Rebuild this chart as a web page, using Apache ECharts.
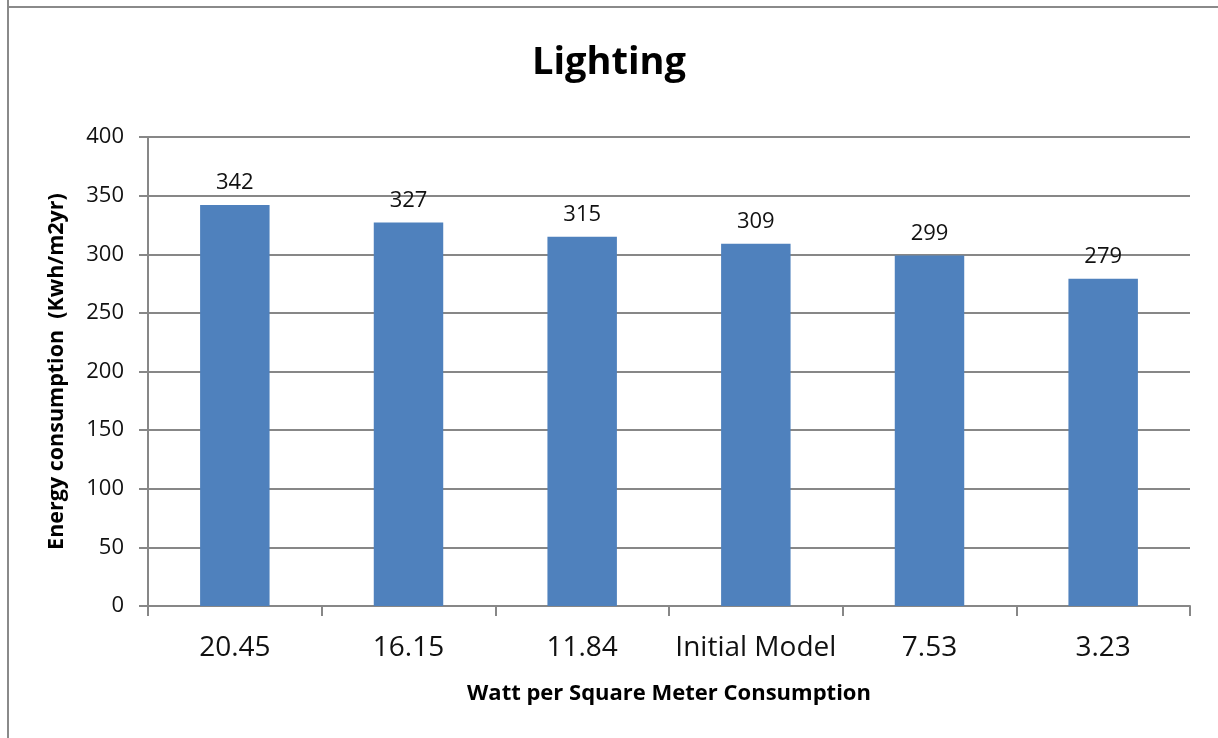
<!DOCTYPE html>
<html>
<head>
<meta charset="utf-8">
<script src="https://cdn.jsdelivr.net/npm/echarts@6/dist/echarts.min.js"></script>
<style>
html,body{margin:0;padding:0;background:#fff;}
#chart{width:1218px;height:738px;}
</style>
</head>
<body>
<div id="chart"></div>
<script>
const categories = ['20.45', '16.15', '11.84', 'Initial Model', '7.53', '3.23'];
const values = [342, 327, 315, 309, 299, 279];
const yTicks = { min: 0, max: 400, interval: 50 };

const FONT = '"Open Sans", sans-serif';
const GRAY = '#878787';

const chart = echarts.init(document.getElementById('chart'), null, { renderer: 'canvas' });
chart.setOption({
  animation: false,
  backgroundColor: '#fff',
  title: {
    text: 'Lighting',
    left: 'center',
    top: 39,
    textStyle: { fontFamily: FONT, fontSize: 38, fontWeight: 'bold', color: '#000' }
  },
  graphic: [
    { type: 'line', shape: { x1: 8, y1: 0, x2: 8, y2: 738 }, style: { stroke: '#8a8a8a', lineWidth: 2 } },
    { type: 'line', shape: { x1: 8, y1: 7, x2: 1218, y2: 7 }, style: { stroke: '#8a8a8a', lineWidth: 2 } }
  ],
  grid: { left: 148, right: 28, top: 137, bottom: 132 },
  xAxis: {
    type: 'category',
    data: categories,
    name: 'Watt per Square Meter Consumption',
    nameLocation: 'middle',
    nameGap: 77,
    nameTextStyle: { fontFamily: FONT, fontSize: 22, fontWeight: 'bold', color: '#000' },
    axisLine: { lineStyle: { color: GRAY, width: 2 } },
    axisTick: { show: true, length: 10, alignWithLabel: false, lineStyle: { color: GRAY, width: 2 } },
    axisLabel: { fontFamily: FONT, fontSize: 28, color: '#111', margin: 28, interval: 0 }
  },
  yAxis: {
    type: 'value',
    min: yTicks.min,
    max: yTicks.max,
    interval: yTicks.interval,
    name: 'Energy consumption  (Kwh/m2yr)',
    nameLocation: 'middle',
    nameGap: 80,
    nameTextStyle: { fontFamily: FONT, fontSize: 21.5, fontWeight: 'bold', color: '#000' },
    axisLine: { show: true, lineStyle: { color: GRAY, width: 2 } },
    axisTick: { show: true, length: 9, lineStyle: { color: GRAY, width: 2 } },
    splitLine: { show: true, lineStyle: { color: GRAY, width: 2 } },
    axisLabel: { fontFamily: FONT, fontSize: 22, color: '#111', margin: 24 }
  },
  series: [{
    type: 'bar',
    data: values,
    barWidth: '40%',
    itemStyle: { color: '#4F81BD' },
    label: {
      show: true,
      position: 'top',
      distance: 11,
      fontFamily: FONT,
      fontSize: 22,
      color: '#111'
    }
  }]
});
</script>
</body>
</html>
